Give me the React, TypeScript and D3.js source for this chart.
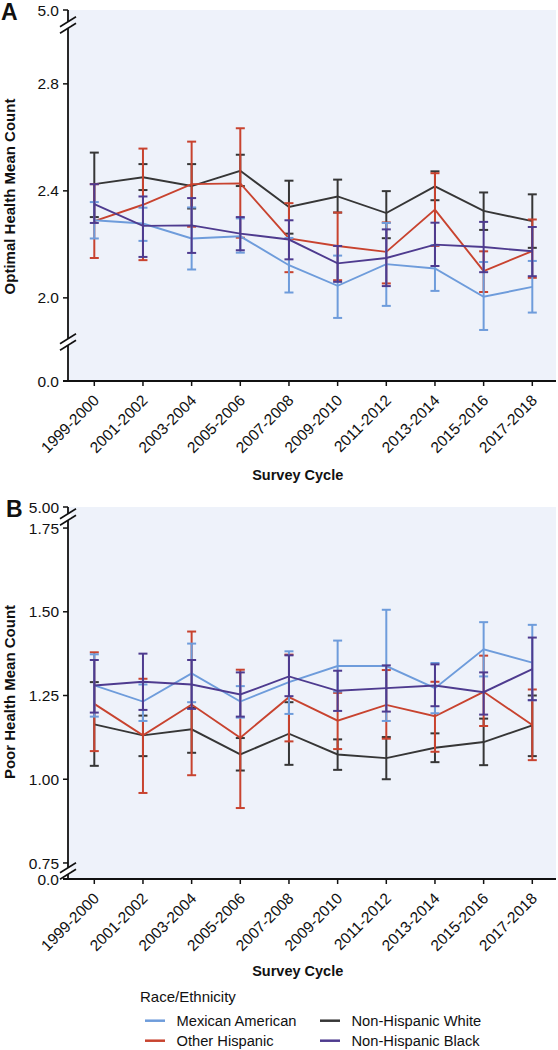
import React from "react";
import * as d3 from "d3";

// ---------- data ----------
const categories = ["1999-2000","2001-2002","2003-2004","2005-2006","2007-2008","2009-2010","2011-2012","2013-2014","2015-2016","2017-2018"];
const seriesNames = ["Mexican American","Other Hispanic","Non-Hispanic White","Non-Hispanic Black"];

// Panel A: Optimal health mean count
const optMexicanMean = [2.29, 2.278, 2.222, 2.23, 2.122, 2.045, 2.126, 2.11, 2.004, 2.041];
const optMexicanLow  = [2.222, 2.213, 2.106, 2.169, 2.02, 1.925, 1.97, 2.026, 1.88, 1.945];
const optMexicanHigh = [2.358, 2.337, 2.338, 2.297, 2.224, 2.158, 2.28, 2.197, 2.134, 2.138];

const optOtherMean = [2.287, 2.348, 2.425, 2.428, 2.222, 2.194, 2.172, 2.33, 2.10, 2.175];
const optOtherLow  = [2.149, 2.141, 2.266, 2.225, 2.096, 2.066, 2.054, 2.194, 2.022, 2.075];
const optOtherHigh = [2.425, 2.558, 2.584, 2.634, 2.354, 2.319, 2.282, 2.466, 2.174, 2.293];

const optWhiteMean = [2.425, 2.451, 2.418, 2.475, 2.34, 2.379, 2.317, 2.417, 2.325, 2.287];
const optWhiteLow  = [2.302, 2.403, 2.334, 2.418, 2.24, 2.319, 2.223, 2.365, 2.254, 2.187];
const optWhiteHigh = [2.543, 2.50, 2.50, 2.535, 2.438, 2.442, 2.399, 2.473, 2.394, 2.387];

const optBlackMean = [2.35, 2.269, 2.271, 2.24, 2.218, 2.129, 2.149, 2.199, 2.19, 2.174];
const optBlackLow  = [2.28, 2.153, 2.168, 2.178, 2.144, 2.06, 2.044, 2.119, 2.096, 2.081];
const optBlackHigh = [2.425, 2.379, 2.373, 2.302, 2.29, 2.194, 2.256, 2.281, 2.284, 2.265];

// Panel B: Poor health mean count
const poorMexicanMean = [1.28, 1.232, 1.316, 1.232, 1.29, 1.338, 1.338, 1.272, 1.388, 1.348];
const poorMexicanLow  = [1.187, 1.174, 1.23, 1.184, 1.195, 1.262, 1.174, 1.197, 1.307, 1.236];
const poorMexicanHigh = [1.373, 1.283, 1.405, 1.278, 1.382, 1.414, 1.506, 1.347, 1.469, 1.461];

const poorOtherMean = [1.225, 1.131, 1.223, 1.124, 1.245, 1.175, 1.222, 1.188, 1.261, 1.162];
const poorOtherLow  = [1.084, 0.959, 1.012, 0.914, 1.113, 1.09, 1.121, 1.082, 1.159, 1.057];
const poorOtherHigh = [1.379, 1.30, 1.441, 1.327, 1.372, 1.258, 1.326, 1.291, 1.369, 1.268];

const poorWhiteMean = [1.164, 1.131, 1.149, 1.074, 1.136, 1.074, 1.063, 1.094, 1.111, 1.161];
const poorWhiteLow  = [1.04, 1.069, 1.079, 1.026, 1.043, 1.028, 1.0, 1.051, 1.042, 1.069];
const poorWhiteHigh = [1.29, 1.19, 1.213, 1.123, 1.23, 1.119, 1.126, 1.137, 1.181, 1.25];

const poorBlackMean = [1.28, 1.291, 1.283, 1.253, 1.307, 1.264, 1.272, 1.28, 1.26, 1.329];
const poorBlackLow  = [1.199, 1.207, 1.21, 1.187, 1.248, 1.204, 1.202, 1.218, 1.193, 1.236];
const poorBlackHigh = [1.356, 1.375, 1.356, 1.319, 1.37, 1.324, 1.34, 1.343, 1.319, 1.423];

// Axis ticks
const ticksA = [0, 2.0, 2.4, 2.8, 5.0];
const tickLabelsA = ["0.0", "2.0", "2.4", "2.8", "5.0"];
const ticksB = [0, 0.75, 1.0, 1.25, 1.5, 1.75, 5.0];
const tickLabelsB = ["0.0", "0.75", "1.00", "1.25", "1.50", "1.75", "5.00"];

// ---------- styles ----------
const COLORS: Record<string, string> = {
  "Mexican American": "#6E9CDB",
  "Other Hispanic": "#C8432F",
  "Non-Hispanic White": "#363636",
  "Non-Hispanic Black": "#4E3B8F",
};
const BG = "#EEF2FA";
const FONT = "'Liberation Sans', Arial, sans-serif";

type Series = { name: string; mean: number[]; low: number[]; high: number[] };

const seriesA: Series[] = [
  { name: "Non-Hispanic White", mean: optWhiteMean, low: optWhiteLow, high: optWhiteHigh },
  { name: "Other Hispanic", mean: optOtherMean, low: optOtherLow, high: optOtherHigh },
  { name: "Mexican American", mean: optMexicanMean, low: optMexicanLow, high: optMexicanHigh },
  { name: "Non-Hispanic Black", mean: optBlackMean, low: optBlackLow, high: optBlackHigh },
];
const seriesB: Series[] = [
  { name: "Non-Hispanic White", mean: poorWhiteMean, low: poorWhiteLow, high: poorWhiteHigh },
  { name: "Other Hispanic", mean: poorOtherMean, low: poorOtherLow, high: poorOtherHigh },
  { name: "Mexican American", mean: poorMexicanMean, low: poorMexicanLow, high: poorMexicanHigh },
  { name: "Non-Hispanic Black", mean: poorBlackMean, low: poorBlackLow, high: poorBlackHigh },
];

const AXIS_X = 68;
const RIGHT_X = 556;
const x = d3.scalePoint<string>().domain(categories).range([94.3, 532.3]);

type PanelProps = {
  letter: string;
  letterX: number;
  top: number;
  bottom: number;
  breaks: [number, number]; // domain values at the axis breaks
  breakYs: [number, number];
  maxV: number;
  ticks: number[];
  tickLabels: string[];
  series: Series[];
  yTitle: string;
  yTitleCenter: number;
  xTitleY: number;
};

function BreakMark({ y }: { y: number }) {
  const h = 5;
  const off = 3.2;
  return (
    <g>
      <rect x={AXIS_X - 3} y={y - off} width={6} height={off * 2} fill="#ffffff" />
      <line x1={AXIS_X - 8} y1={y - off + h} x2={AXIS_X + 8} y2={y - off - h} stroke="#111" strokeWidth={1.6} />
      <line x1={AXIS_X - 8} y1={y + off + h} x2={AXIS_X + 8} y2={y + off - h} stroke="#111" strokeWidth={1.6} />
    </g>
  );
}

function Panel(p: PanelProps) {
  const y = d3
    .scaleLinear()
    .domain([0, p.breaks[0], p.breaks[1], p.maxV])
    .range([p.bottom, p.breakYs[0], p.breakYs[1], p.top]);
  const line = d3
    .line<number>()
    .x((_, i) => x(categories[i]) as number)
    .y((d) => y(d));
  const cap = 4.5;
  return (
    <g>
      <rect x={AXIS_X} y={p.top} width={RIGHT_X - AXIS_X} height={p.bottom - p.top} fill={BG} />
      {p.series.map((s) => (
        <g key={s.name} stroke={COLORS[s.name]} fill="none" strokeWidth={2}>
          {categories.map((c, i) => {
            const cx = x(c) as number;
            return (
              <g key={c}>
                <line x1={cx} x2={cx} y1={y(s.low[i])} y2={y(s.high[i])} />
                <line x1={cx - cap} x2={cx + cap} y1={y(s.low[i])} y2={y(s.low[i])} />
                <line x1={cx - cap} x2={cx + cap} y1={y(s.high[i])} y2={y(s.high[i])} />
              </g>
            );
          })}
          <path d={line(s.mean) || ""} strokeWidth={1.9} />
        </g>
      ))}
      {/* y axis */}
      <line x1={AXIS_X} x2={AXIS_X} y1={p.top} y2={p.bottom} stroke="#111" strokeWidth={1.8} />
      {p.ticks.map((t, i) => (
        <g key={t}>
          <line x1={AXIS_X - 5} x2={AXIS_X} y1={y(t)} y2={y(t)} stroke="#111" strokeWidth={1.5} />
          <text x={AXIS_X - 9} y={y(t)} dy="0.36em" textAnchor="end" fontSize={15.5} fontFamily={FONT} fill="#111">
            {p.tickLabels[i]}
          </text>
        </g>
      ))}
      <BreakMark y={p.breakYs[0]} />
      <BreakMark y={p.breakYs[1]} />
      {/* x axis */}
      <line x1={AXIS_X - 5} x2={RIGHT_X} y1={p.bottom} y2={p.bottom} stroke="#111" strokeWidth={1.8} />
      {categories.map((c) => {
        const cx = x(c) as number;
        return (
          <g key={c}>
            <line x1={cx} x2={cx} y1={p.bottom} y2={p.bottom + 5} stroke="#111" strokeWidth={1.5} />
            <text
              transform={`translate(${cx + 5.7},${p.bottom + 20.5}) rotate(-45)`}
              textAnchor="end"
              fontSize={15.5}
              fontFamily={FONT}
              fill="#111"
            >
              {c}
            </text>
          </g>
        );
      })}
      <text
        transform={`translate(15,${p.yTitleCenter}) rotate(-90)`}
        textAnchor="middle"
        fontSize={15}
        fontWeight="bold"
        fontFamily={FONT}
        fill="#111"
      >
        {p.yTitle}
      </text>
      <text x={297.7} y={p.xTitleY} textAnchor="middle" fontSize={14.5} fontWeight="bold" fontFamily={FONT} fill="#111">
        Survey Cycle
      </text>
      <text x={p.letterX} y={p.top + 10} fontSize={23} fontWeight="bold" fontFamily={FONT} fill="#111">
        {p.letter}
      </text>
    </g>
  );
}

export default function App() {
  const legendCols = [145, 320];
  const legendRows = [1020.7, 1040.7];
  const legendOrder = ["Mexican American", "Non-Hispanic White", "Other Hispanic", "Non-Hispanic Black"];
  return (
    <svg
      width={558}
      height={1050}
      viewBox="0 0 558 1050"
      style={{ position: "absolute", left: 0, top: 0, background: "#fff" }}
    >
      <Panel
        letter="A"
        letterX={1}
        top={10}
        bottom={381}
        breaks={[1.835, 3.02]}
        breakYs={[342, 25]}
        maxV={5}
        ticks={ticksA}
        tickLabels={tickLabelsA}
        series={seriesA}
        yTitle="Optimal Health Mean Count"
        yTitleCenter={196.5}
        xTitleY={480}
      />
      <Panel
        letter="B"
        letterX={6}
        top={507}
        bottom={879}
        breaks={[0.726, 1.783]}
        breakYs={[871, 517]}
        maxV={5}
        ticks={ticksB}
        tickLabels={tickLabelsB}
        series={seriesB}
        yTitle="Poor Health Mean Count"
        yTitleCenter={692}
        xTitleY={976}
      />
      <text x={140} y={1001.5} fontSize={15} fontFamily={FONT} fill="#111">
        Race/Ethnicity
      </text>
      {legendOrder.map((name, i) => {
        const col = i % 2;
        const row = Math.floor(i / 2);
        const lx = legendCols[col];
        const ly = legendRows[row];
        return (
          <g key={name}>
            <line x1={lx} x2={lx + 20} y1={ly} y2={ly} stroke={COLORS[name]} strokeWidth={2.5} />
            <text x={lx + 31.5} y={ly} dy="0.36em" fontSize={14.7} fontFamily={FONT} fill="#111">
              {name}
            </text>
          </g>
        );
      })}
    </svg>
  );
}
